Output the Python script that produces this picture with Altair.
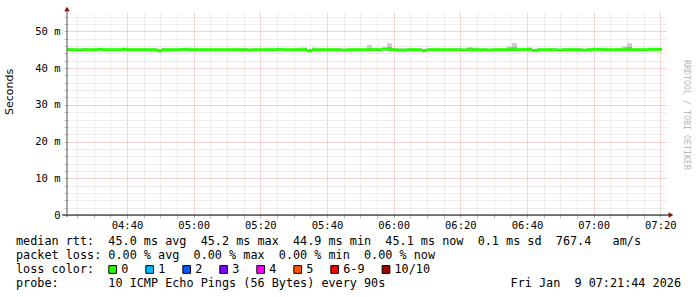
import altair as alt
import pandas as pd

# ---------------- data ----------------
median_ms = [
    45.0, 45.0, 44.9, 45.0, 45.0, 45.0, 45.1, 45.0, 45.0, 45.0,
    45.0, 45.1, 45.0, 45.0, 45.0, 45.0, 45.0, 45.0, 44.7, 45.0,
    45.0, 45.0, 45.0, 45.1, 45.0, 45.0, 45.0, 45.0, 45.0, 45.0,
    45.0, 45.0, 45.0, 45.0, 45.0, 45.0, 44.9, 45.0, 45.0, 45.0,
    45.0, 45.0, 45.1, 45.0, 45.0, 45.0, 45.0, 45.0, 44.7, 45.0,
    45.0, 45.0, 45.0, 45.0, 45.0, 44.9, 45.0, 45.0, 45.0, 45.0,
    45.0, 45.0, 45.0, 45.2, 45.0, 45.0, 44.9, 44.9, 45.0, 45.0,
    45.0, 44.8, 45.0, 45.0, 45.0, 45.0, 45.0, 45.0, 45.0, 44.9,
    45.0, 45.0, 45.0, 45.0, 44.9, 45.0, 45.0, 45.0, 45.0, 45.0,
    45.0, 45.1, 45.1, 44.8, 45.0, 45.0, 45.0, 45.0, 44.9, 45.0,
    45.0, 45.0, 45.0, 44.9, 45.0, 45.1, 45.1, 45.0, 45.0, 45.0,
    45.0, 45.0, 45.0, 45.0, 45.0, 45.0, 45.1, 45.1, 45.1,
]
smoke_lo_ms = [
    44.8, 44.8, 44.8, 44.8, 44.9, 44.8, 44.9, 44.8, 44.8, 44.8,
    44.8, 44.9, 44.8, 44.8, 44.8, 44.8, 44.8, 44.8, 44.6, 44.8,
    44.8, 44.8, 44.8, 44.9, 44.8, 44.8, 44.8, 44.8, 44.8, 44.8,
    44.8, 44.8, 44.8, 44.8, 44.8, 44.8, 44.7, 44.8, 44.8, 44.8,
    44.8, 44.8, 44.9, 44.8, 44.8, 44.8, 44.8, 44.8, 44.6, 44.8,
    44.8, 44.8, 44.8, 44.8, 44.8, 44.7, 44.8, 44.8, 44.8, 44.8,
    44.8, 44.8, 44.8, 44.9, 44.8, 44.8, 44.7, 44.7, 44.8, 44.8,
    44.8, 44.7, 44.8, 44.8, 44.8, 44.8, 44.8, 44.8, 44.8, 44.7,
    44.8, 44.8, 44.8, 44.8, 44.7, 44.8, 44.8, 44.8, 44.8, 44.8,
    44.8, 44.9, 44.9, 44.7, 44.8, 44.8, 44.8, 44.8, 44.7, 44.8,
    44.8, 44.8, 44.8, 44.7, 44.8, 44.9, 44.9, 44.8, 44.8, 44.8,
    44.8, 44.8, 44.8, 44.8, 44.8, 44.8, 44.9, 44.9, 44.9,
]
smoke_mid_ms = [
    45.1, 45.1, 45.1, 45.1, 45.1, 45.1, 45.2, 45.1, 45.1, 45.1,
    45.1, 45.2, 45.1, 45.1, 45.1, 45.1, 45.1, 45.1, 45.0, 45.1,
    45.1, 45.1, 45.1, 45.2, 45.1, 45.1, 45.1, 45.1, 45.1, 45.1,
    45.1, 45.1, 45.1, 45.1, 45.1, 45.1, 45.1, 45.1, 45.1, 45.1,
    45.1, 45.1, 45.2, 45.1, 45.1, 45.1, 45.1, 45.5, 45.0, 45.1,
    45.1, 45.1, 45.1, 45.1, 45.1, 45.1, 45.1, 45.1, 45.1, 45.1,
    45.5, 45.1, 45.1, 45.3, 45.8, 45.1, 45.1, 45.1, 45.1, 45.1,
    45.1, 45.1, 45.1, 45.1, 45.1, 45.1, 45.1, 45.1, 45.1, 45.1,
    45.5, 45.2, 45.1, 45.1, 45.1, 45.1, 45.1, 45.1, 45.6, 45.8,
    45.1, 45.2, 45.2, 45.1, 45.1, 45.1, 45.1, 45.1, 45.1, 45.1,
    45.1, 45.1, 45.1, 45.1, 45.1, 45.2, 45.2, 45.1, 45.1, 45.1,
    45.1, 45.6, 45.8, 45.1, 45.1, 45.1, 45.2, 45.2, 45.2,
]
smoke_hi_ms = [
    45.4, 45.3, 45.5, 45.5, 45.3, 45.3, 45.3, 45.4, 45.3, 45.3,
    45.3, 45.5, 45.3, 45.3, 45.4, 45.4, 45.3, 45.3, 45.3, 45.4,
    45.3, 45.3, 45.3, 45.3, 45.6, 45.5, 45.3, 45.3, 45.3, 45.3,
    45.3, 45.3, 45.3, 45.3, 45.5, 45.5, 45.4, 45.4, 45.3, 45.3,
    45.5, 45.3, 45.5, 45.3, 45.3, 45.4, 45.5, 45.6, 45.3, 45.6,
    45.3, 45.4, 45.3, 45.3, 45.3, 45.3, 45.3, 45.5, 45.3, 45.3,
    46.3, 45.4, 45.3, 45.4, 46.8, 45.5, 45.4, 45.3, 45.4, 45.4,
    45.3, 45.3, 45.3, 45.5, 45.3, 45.3, 45.4, 45.3, 45.3, 45.4,
    45.7, 45.6, 45.3, 45.3, 45.3, 45.3, 45.4, 45.3, 45.9, 46.8,
    45.4, 45.3, 45.6, 45.3, 45.3, 45.3, 45.4, 45.3, 45.3, 45.3,
    45.5, 45.5, 45.3, 45.3, 45.4, 45.3, 45.3, 45.5, 45.3, 45.3,
    45.5, 45.9, 46.8, 45.4, 45.3, 45.3, 45.3, 45.3, 45.3,
]

start_minute = 22.0          # minutes after 04:00
step_minutes = 1.5           # 90 s probe step
x_domain = [22, 202]
y_domain = [0, 55]
x_tick_values = list(range(25, 201, 5))
y_tick_values = list(range(0, 55, 2))

rtt_stats = ["45.0", "45.2", "44.9", "45.1", "0.1", "767.4"]
loss_stats = ["0.00", "0.00", "0.00", "0.00"]
loss_labels = ["0", "1", "2", "3", "4", "5", "6-9", "10/10"]
loss_colors = ["#26ff00", "#00b8ff", "#0059ff", "#7e00ff", "#ff00ff",
               "#ff5500", "#ff0000", "#a10000"]
probe_text = "10 ICMP Echo Pings (56 Bytes) every 90s"
timestamp_text = "Fri Jan  9 07:21:44 2026"
watermark_text = "RRDTOOL / TOBI OETIKER"
y_title = "Seconds"

# ---------------- table ----------------
n = len(median_ms)
t0 = [start_minute + step_minutes * i for i in range(n)]
df = pd.DataFrame({
    "t0": t0,
    "t1": [t + step_minutes for t in t0],
    "med": median_ms,
    "lo": smoke_lo_ms,
    "mid": smoke_mid_ms,
    "hi": smoke_hi_ms,
})
dummy = pd.DataFrame({"a": [0]})

MONO = "DejaVu Sans Mono"
NB = "\u00a0"


def nb(s):
    return s.replace(" ", NB)


x_label_expr = (
    "datum.value % 20 === 0 ? "
    "((floor(datum.value/60)+4) < 10 ? '0' : '') + (floor(datum.value/60)+4) + ':' + "
    "((datum.value % 60) < 10 ? '0' : '') + (datum.value % 60) : ''"
)
y_label_expr = (
    "datum.value % 10 === 0 ? (datum.value === 0 ? '0\u00a0\u00a0' : datum.value + '\u00a0m') : ''"
)

x_axis = alt.Axis(
    values=x_tick_values, labelExpr=x_label_expr, title=None,
    grid=True, gridDash=[1, 1], gridWidth=1,
    gridColor={"condition": {"test": "datum.value % 20 === 0", "value": "#eba6a6"},
               "value": "#dadada"},
    domain=False, ticks=True, tickSize=3, tickColor="#bbbbbb",
    labelFont=MONO, labelFontSize=10.5, labelColor="#000000",
    labelPadding=2, labelFlush=False, labelOverlap=False,
)
y_axis = alt.Axis(
    values=y_tick_values, labelExpr=y_label_expr, title=None,
    grid=True, gridDash=[1, 1], gridWidth=1,
    gridColor={"condition": {"test": "datum.value % 10 === 0", "value": "#eba6a6"},
               "value": "#dadada"},
    domain=False, ticks=True, tickSize=3, tickColor="#bbbbbb",
    labelFont=MONO, labelFontSize=10.5, labelColor="#000000",
    labelPadding=4, labelFlush=False, labelOverlap=False,
)
xs = alt.Scale(domain=x_domain, nice=False, zero=False)
ys = alt.Scale(domain=y_domain, nice=False)

base = alt.Chart(df)

smoke_outer = base.mark_rect(color="#cfcfcf").encode(
    x=alt.X("t0:Q", scale=xs, axis=x_axis), x2="t1:Q",
    y=alt.Y("lo:Q", scale=ys, axis=y_axis), y2="hi:Q",
)
smoke_inner = base.mark_rect(color="#a8a8a8").encode(
    x=alt.X("t0:Q", scale=xs, axis=x_axis), x2="t1:Q",
    y=alt.Y("lo:Q", scale=ys, axis=y_axis), y2="mid:Q",
)
median_line = base.mark_rule(color=loss_colors[0], strokeWidth=3, strokeCap="butt").encode(
    x=alt.X("t0:Q", scale=xs, axis=x_axis), x2="t1:Q",
    y=alt.Y("med:Q", scale=ys, axis=y_axis),
)

W, H = 600, 202

axis_lines = [
    alt.Chart(dummy).mark_rule(color="#000000", strokeWidth=1).encode(
        x=alt.value(-5), x2=alt.value(W + 3), y=alt.value(H)),
    alt.Chart(dummy).mark_rule(color="#555555", strokeWidth=1).encode(
        x=alt.value(0), y=alt.value(-3), y2=alt.value(H + 2)),
    alt.Chart(dummy).mark_point(shape="triangle-up", filled=True, color="#8b1010",
                                size=30, opacity=1).encode(
        x=alt.value(0), y=alt.value(-4)),
    alt.Chart(dummy).mark_point(shape="triangle-right", filled=True, color="#8b1010",
                                size=30, opacity=1).encode(
        x=alt.value(W + 4), y=alt.value(H)),
]

texts = []


def txt(s, x, y, size=11.8, align="left", font=MONO, color="#000000", angle=0):
    kw = dict(font=font, fontSize=size, align=align, baseline="middle", color=color)
    if angle:
        kw["angle"] = angle
    return alt.Chart(dummy).mark_text(**kw).encode(
        text=alt.value(nb(s)), x=alt.value(x), y=alt.value(y))


line1 = ("median rtt:  {} ms avg  {} ms max  {} ms min  {} ms now  {} ms sd  {}   am/s"
         .format(*rtt_stats))
line2 = "packet loss: {} % avg  {} % max  {} % min  {} % now".format(*loss_stats)
line4 = "probe:       " + probe_text

texts.append(txt(line1, -51, 228))
texts.append(txt(line2, -51, 242))
texts.append(txt("loss color:", -51, 256))
texts.append(txt(line4, -51, 270))
texts.append(txt(timestamp_text, 614, 270, align="right"))
texts.append(txt(y_title, -57, 102, size=11, font="DejaVu Sans", angle=270))
texts.append(txt(watermark_text, 619, 47, size=8.3, color="#b8b8b8", angle=90))

cx = 45.7
for lab, col in zip(loss_labels, loss_colors):
    texts.append(alt.Chart(dummy).mark_square(
        filled=True, fill=col, stroke="#000000", strokeWidth=1, size=60, opacity=1
    ).encode(x=alt.value(cx), y=alt.value(256.5)))
    texts.append(txt(lab, cx + 8.5, 256))
    cx += 29.85 + 7.15 * len(lab)

chart = alt.layer(
    smoke_outer, smoke_inner, median_line, *axis_lines, *texts
).properties(
    width=W, height=H,
    padding={"left": 67, "top": 13, "right": 30, "bottom": 82},
    autosize=alt.AutoSizeParams(type="none"),
    background="#ffffff",
).configure_view(stroke=None)

chart.save("out.html", embed_options={"renderer": "svg", "actions": False})
